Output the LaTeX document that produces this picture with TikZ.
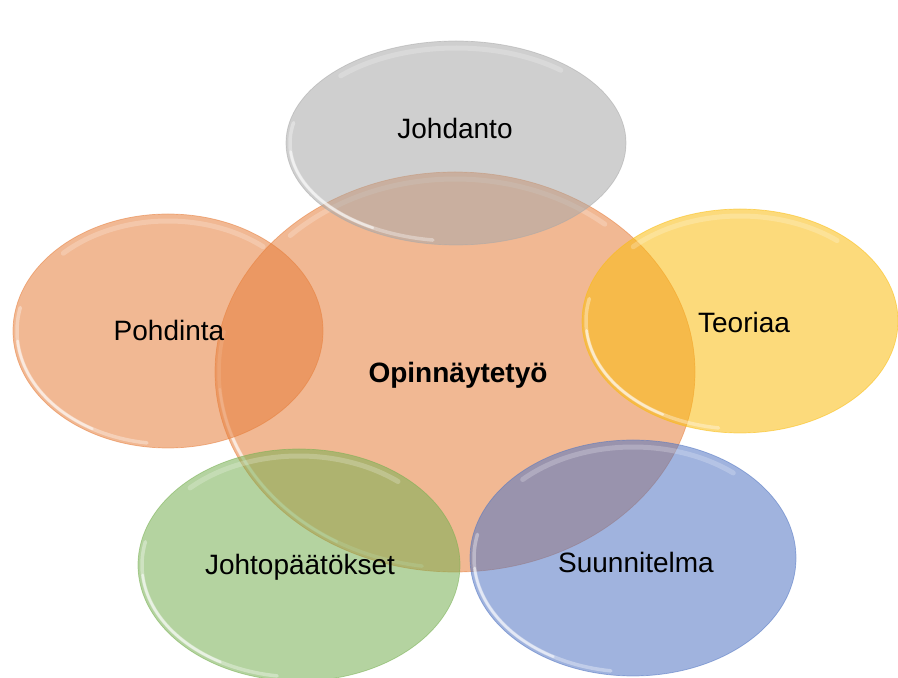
\documentclass[tikz,border=0pt]{standalone}
\usepackage{fontspec}
\setmainfont{Liberation Sans}
\usetikzlibrary{shapes.geometric,calc}
\definecolor{corange}{RGB}{231,127,60}
\definecolor{cgray}{RGB}{169,169,169}
\definecolor{cyellow}{RGB}{251,189,15}
\definecolor{cgreen}{RGB}{120,176,82}
\definecolor{cblue}{RGB}{82,118,195}
\tikzset{
  x=1pt, y=1pt,
  bub/.style={ellipse, inner sep=0pt, outer sep=0pt, fill=#1, draw=#1, fill opacity=0.55, draw opacity=0.55, line width=0.7pt},
  hl/.style={white, line width=3.5pt, opacity=0.35, line cap=round},
  hlb/.style={white, line width=2.5pt, opacity=0.55, line cap=round},
  hlt/.style={white, line width=5pt, opacity=0.22, line cap=round},
  lbl/.style={font=\fontsize{28}{32}\selectfont, text=black, inner sep=0pt},
}
\newcommand\glass[3]{% node, rx, ry
  \draw[hl] ($(#1.center)+(168:{#2-4} and {#3-4})$) arc[start angle=168, end angle=262, x radius=#2-4, y radius=#3-4];
  \draw[hlb] ($(#1.center)+(185:{#2-4} and {#3-4})$) arc[start angle=185, end angle=240, x radius=#2-4, y radius=#3-4];
  \draw[hlt] ($(#1.center)+(50:{#2-7} and {#3-7})$) arc[start angle=50, end angle=135, x radius=#2-7, y radius=#3-7];
}
\begin{document}
\begin{tikzpicture}
\fill[white] (0,0) rectangle (898,678);
\useasboundingbox (0,0) rectangle (898,678);
% centre
\node[bub=corange, minimum width=480pt, minimum height=400pt] (opin) at (455,306) {};
\glass{opin}{240}{200}
% Johdanto
\node[bub=cgray, minimum width=340pt, minimum height=204pt] (joh) at (456,535) {};
\glass{joh}{170}{102}
% Pohdinta
\node[bub=corange, minimum width=310pt, minimum height=234pt] (poh) at (168,347) {};
\glass{poh}{155}{117}
% Teoriaa
\node[bub=cyellow, minimum width=316pt, minimum height=224pt] (teo) at (740,357) {};
\glass{teo}{158}{112}
% Suunnitelma
\node[bub=cblue, minimum width=326pt, minimum height=236pt] (suu) at (633,120) {};
\glass{suu}{163}{118}
% Johtopaatokset
\node[bub=cgreen, minimum width=322pt, minimum height=232pt] (jp) at (299,113) {};
\glass{jp}{161}{116}
% labels
\node[lbl] (tjoh) at (455,550) {Johdanto};
\node[lbl] (tpoh) at (169,348) {Pohdinta};
\node[lbl] (tteo) at (744,356) {Teoriaa};
\node[lbl] (tsuu) at (636,116) {Suunnitelma};
\node[lbl, anchor=base] (tjp) at (300,103) {Johtopäätökset};
\node[lbl, font=\fontsize{28}{32}\selectfont\bfseries] (topin) at (458,303) {Opinnäytetyö};
\end{tikzpicture}
\end{document}
